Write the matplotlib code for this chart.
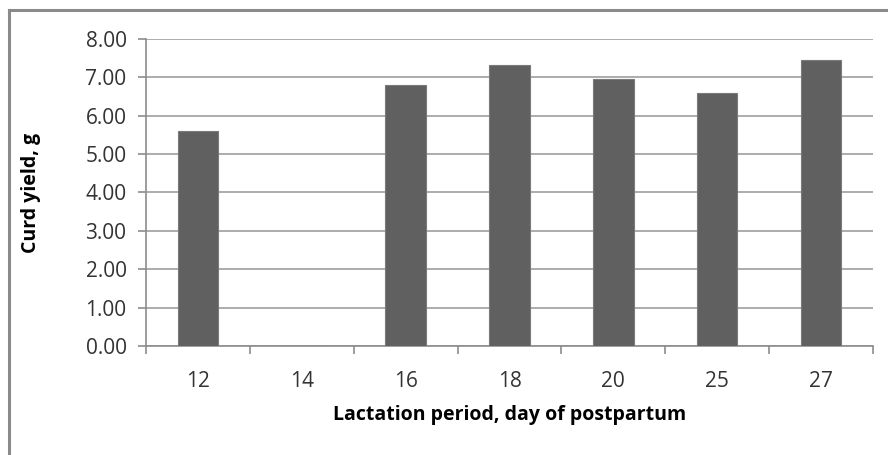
import numpy as np
import matplotlib
matplotlib.use("Agg")
import matplotlib.pyplot as plt
from matplotlib.lines import Line2D

days = ["12", "14", "16", "18", "20", "25", "27"]
curd_yield = [5.61, 0.0, 6.81, 7.32, 6.97, 6.60, 7.44]
y_ticks = [0, 1, 2, 3, 4, 5, 6, 7, 8]

plt.rcParams["font.family"] = ["Open Sans", "DejaVu Sans"]

fig = plt.figure(figsize=(8.88, 4.55), dpi=100)
ax = fig.add_axes([146 / 888, 1 - 346 / 455, (873 - 146) / 888, (346 - 39) / 455])

x = np.arange(len(days))
ax.bar(x, curd_yield, width=0.39, color="#606060", edgecolor="#7a7a7a", linewidth=0.8, zorder=3)

ax.set_xlim(-0.5, len(days) - 0.5)
ax.set_ylim(0, 8)
ax.set_yticks(y_ticks)
ax.set_yticklabels([f"{v:.2f}" for v in y_ticks])
ax.yaxis.grid(True, color="#a6a6a6", linewidth=1.3, zorder=0)

ax.set_xticks(x)
ax.set_xticklabels(days)
ax.set_xticks(np.arange(-0.5, len(days)), minor=True)
ax.tick_params(axis="x", which="major", length=0, pad=18, labelsize=15, labelcolor="#333333")
ax.tick_params(axis="x", which="minor", length=6, width=1.2, color="#8c8c8c", direction="out")
ax.tick_params(axis="y", length=6, width=1.2, color="#8c8c8c", labelsize=15,
               labelcolor="#333333", pad=8)

for side in ["top", "right"]:
    ax.spines[side].set_visible(False)
for side in ["left", "bottom"]:
    ax.spines[side].set_color("#8c8c8c")
    ax.spines[side].set_linewidth(1.2)

ax.set_xlabel("Lactation period, day of postpartum", fontsize=14, fontweight="bold")
ax.set_ylabel("Curd yield, g", fontsize=14, fontweight="bold")
ax.xaxis.set_label_coords(0.5, -0.225)
ax.yaxis.set_label_coords(-0.158, 0.5)
ax.xaxis.label.set_verticalalignment("center")
ax.yaxis.label.set_verticalalignment("center")

# chart area border (only top and left visible in the crop)
fig.add_artist(Line2D([9 / 888, 1], [1 - 10 / 455, 1 - 10 / 455], color="#8a8a8a", linewidth=2.2))
fig.add_artist(Line2D([9 / 888, 9 / 888], [0, 1 - 10 / 455], color="#8a8a8a", linewidth=2.2))

fig.savefig("out.png", dpi=100)
